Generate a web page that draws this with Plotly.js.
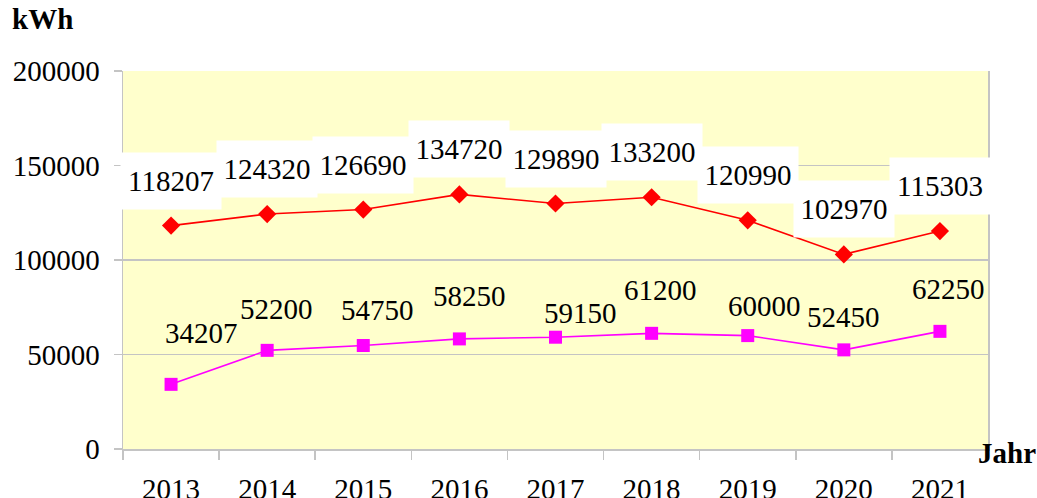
<!DOCTYPE html>
<html>
<head>
<meta charset="utf-8">
<script src="https://cdn.plot.ly/plotly-3.0.1.min.js"></script>
<style>html,body{margin:0;padding:0;background:#fff;}#chart{width:1037px;height:498px;}</style>
</head>
<body>
<div id="chart"></div>
<script>
const years = ["2013","2014","2015","2016","2017","2018","2019","2020","2021"];
const seriesRed = [118207,124320,126690,134720,129890,133200,120990,102970,115303];
const seriesMagenta = [34207,52200,54750,58250,59150,61200,60000,52450,62250];

// label placement offsets (pixels) for the magenta series labels
const magentaDx = [30,9,14,10,25,9,17,0,9];
const magentaDy = [51,41,36,43,24,43,30,33,42];

const FONT = "'Liberation Serif', 'Times New Roman', serif";
const GRID = "#c4c4c4";

const traces = [
  {x: years, y: seriesRed, type: "scatter", mode: "lines+markers",
   line: {color: "#ff0000", width: 1.6},
   marker: {symbol: "diamond", size: 14, color: "#ff0000"}, hoverinfo: "skip"},
  {x: years, y: seriesMagenta, type: "scatter", mode: "lines+markers",
   line: {color: "#ff00ff", width: 1.6},
   marker: {symbol: "square", size: 13, color: "#ff00ff"}, hoverinfo: "skip"}
];

const annotations = [];
years.forEach((yr, i) => {
  annotations.push({x: i, y: seriesRed[i], xref: "x", yref: "y", text: String(seriesRed[i]),
    showarrow: false, yshift: 45, yanchor: "middle", xanchor: "center",
    bgcolor: "#ffffff", width: 100, height: 56, borderpad: 0,
    font: {family: FONT, size: 29, color: "#000"}});
});
years.forEach((yr, i) => {
  annotations.push({x: i, y: seriesMagenta[i], xref: "x", yref: "y", text: String(seriesMagenta[i]),
    showarrow: false, yshift: magentaDy[i], xshift: magentaDx[i], yanchor: "middle", xanchor: "center",
    font: {family: FONT, size: 29, color: "#000"}});
});
annotations.push({xref: "paper", yref: "paper", x: 0, y: 1, xshift: -113, yshift: 52,
  xanchor: "left", yanchor: "middle", text: "<b>kWh</b>", showarrow: false,
  font: {family: FONT, size: 29, color: "#000"}});
annotations.push({xref: "paper", yref: "paper", x: 1, y: 0, xshift: -12, yshift: -4,
  xanchor: "left", yanchor: "middle", text: "<b>Jahr</b>", showarrow: false,
  font: {family: FONT, size: 29, color: "#000"}});

const layout = {
  width: 1037, height: 498,
  margin: {l: 123, r: 49, t: 71, b: 49, pad: 0},
  paper_bgcolor: "#ffffff", plot_bgcolor: "#ffffcc",
  showlegend: false,
  font: {family: FONT, size: 29, color: "#000"},
  xaxis: {type: "category", categoryorder: "array", categoryarray: years, range: [-0.5, 8.5],
    tickson: "boundaries", ticks: "outside", ticklen: 9, tickcolor: GRID, tickwidth: 1.5,
    showline: true, linecolor: GRID, linewidth: 1.5, showgrid: false, zeroline: false,
    ticklabelstandoff: 14, tickfont: {family: FONT, size: 29, color: "#000"}, fixedrange: true},
  yaxis: {range: [0, 200000], dtick: 50000, tick0: 0, tickformat: "d",
    ticks: "outside", ticklen: 8, tickcolor: GRID, tickwidth: 1.5,
    showline: true, mirror: true, linecolor: GRID, linewidth: 1.5,
    showgrid: true, gridcolor: GRID, gridwidth: 1.5, zeroline: false,
    ticklabelstandoff: 8, tickfont: {family: FONT, size: 29, color: "#000"}, fixedrange: true},
  annotations: annotations
};

Plotly.newPlot("chart", traces, layout, {staticPlot: true, displayModeBar: false});
</script>
</body>
</html>
